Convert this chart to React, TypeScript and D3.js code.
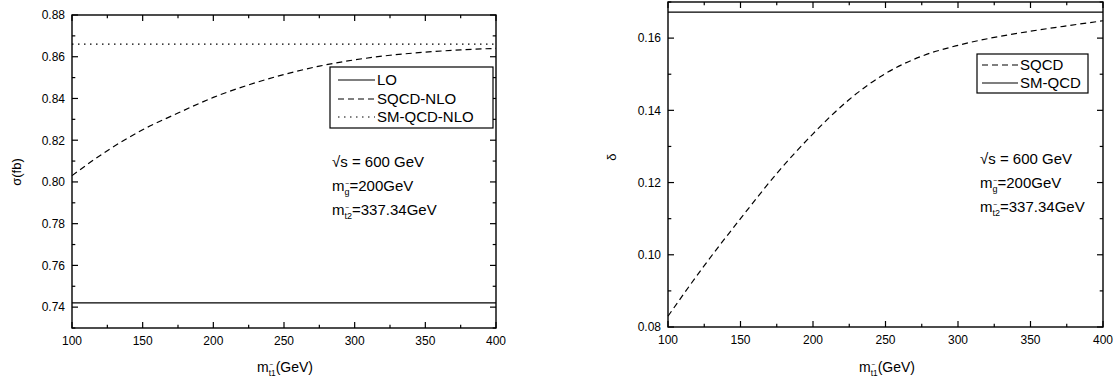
import * as d3 from 'd3';

// m_t1 grid (GeV)
const mt1 = [100, 125, 150, 175, 200, 225, 250, 275, 300, 325, 350, 375, 400];
const mtEnds = [100, 400];

// left panel: sigma (fb)
const sigmaSQCDNLO = [0.803, 0.815, 0.825, 0.833, 0.8405, 0.8465, 0.8515, 0.8555, 0.8585, 0.8607, 0.8622, 0.8633, 0.864];
const sigmaLO = [0.742, 0.742];
const sigmaSMQCDNLO = [0.866, 0.866];

// right panel: delta
const deltaSQCD = [0.083, 0.097, 0.110, 0.1225, 0.1335, 0.143, 0.1502, 0.155, 0.158, 0.1602, 0.1619, 0.1634, 0.1648];
const deltaSMQCD = [0.1672, 0.1672];

const xMajor = [100, 150, 200, 250, 300, 350, 400];
const xMinor = [125, 175, 225, 275, 325, 375];
const leftYMajor = [0.74, 0.76, 0.78, 0.80, 0.82, 0.84, 0.86, 0.88];
const leftYMinor = [0.73, 0.75, 0.77, 0.79, 0.81, 0.83, 0.85, 0.87];
const rightYMajor = [0.08, 0.10, 0.12, 0.14, 0.16];
const rightYMinor = [0.09, 0.11, 0.13, 0.15, 0.17];

const FONT = "'Liberation Sans', Arial, Helvetica, sans-serif";
const DASH = '6,4';
const DOT = '1.5,4.5';

function Frame({ x, y, yMajor, yMinor }) {
  const [x0, x1] = x.range();
  const [y0, y1] = y.range(); // y0 bottom, y1 top
  const big = 6, small = 3.3;
  return (
    <g>
      <rect x={x0} y={y1} width={x1 - x0} height={y0 - y1} fill="none" stroke="#000" strokeWidth={1.4} />
      {xMajor.map(v => (
        <g key={'xM' + v}>
          <line x1={x(v)} x2={x(v)} y1={y0} y2={y0 - big} stroke="#000" strokeWidth={1.2} />
          <line x1={x(v)} x2={x(v)} y1={y1} y2={y1 + big} stroke="#000" strokeWidth={1.2} />
          <text x={x(v)} y={y0 + 17} textAnchor="middle" fontSize={12}>{v}</text>
        </g>
      ))}
      {xMinor.map(v => (
        <g key={'xm' + v}>
          <line x1={x(v)} x2={x(v)} y1={y0} y2={y0 - small} stroke="#000" strokeWidth={1.2} />
          <line x1={x(v)} x2={x(v)} y1={y1} y2={y1 + small} stroke="#000" strokeWidth={1.2} />
        </g>
      ))}
      {yMajor.map(v => (
        <g key={'yM' + v}>
          <line x1={x0} x2={x0 + big} y1={y(v)} y2={y(v)} stroke="#000" strokeWidth={1.2} />
          <line x1={x1} x2={x1 - big} y1={y(v)} y2={y(v)} stroke="#000" strokeWidth={1.2} />
          <text x={x0 - 7} y={y(v) + 4.3} textAnchor="end" fontSize={12}>{v.toFixed(2)}</text>
        </g>
      ))}
      {yMinor.map(v => (
        <g key={'ym' + v}>
          <line x1={x0} x2={x0 + small} y1={y(v)} y2={y(v)} stroke="#000" strokeWidth={1.2} />
          <line x1={x1} x2={x1 - small} y1={y(v)} y2={y(v)} stroke="#000" strokeWidth={1.2} />
        </g>
      ))}
    </g>
  );
}

// m with tilde-subscript, e.g. m_{g~}
function MSub({ x, y, sub, rest, size = 15 }) {
  const mw = 0.833 * size;
  const ss = size * 0.6;
  return (
    <g>
      <text x={x} y={y} fontSize={size}>
        m<tspan dy={4} fontSize={ss}>{sub}</tspan><tspan dy={-4} fontSize={size}>{rest}</tspan>
      </text>
      <text x={x + mw + 0.8} y={y - 5} fontSize={size * 0.45}>~</text>
    </g>
  );
}

function Annot({ x, y }) {
  return (
    <g>
      <text x={x} y={y} fontSize={15}>√s = 600 GeV</text>
      <MSub x={x} y={y + 24} sub="g" rest="=200GeV" />
      <MSub x={x} y={y + 48} sub="t2" rest="=337.34GeV" />
    </g>
  );
}

function XTitle({ cx, y }) {
  const size = 14;
  const total = 0.833 * size + 0.834 * size * 0.6 + 2.667 * size;
  return <MSub x={cx - total / 2} y={y} sub="t1" rest="(GeV)" size={size} />;
}

export default function App() {
  const xL = d3.scaleLinear().domain([100, 400]).range([72, 496]);
  const yL = d3.scaleLinear().domain([0.73, 0.88]).range([328, 15]);
  const xR = d3.scaleLinear().domain([100, 400]).range([668, 1103]);
  const yR = d3.scaleLinear().domain([0.08, 0.17]).range([327, 2]);

  const lineL = d3.line().x(d => xL(d[0])).y(d => yL(d[1])).curve(d3.curveMonotoneX);
  const lineR = d3.line().x(d => xR(d[0])).y(d => yR(d[1])).curve(d3.curveMonotoneX);

  const zip = (xs, ys) => xs.map((v, i) => [v, ys[i]]);

  return (
    <svg width={1120} height={381} style={{ position: 'absolute', left: 0, top: 0, background: '#fff' }}
      fontFamily={FONT}>
      <rect width={1120} height={381} fill="#fff" />
      {/* left panel */}
      <path d={lineL(zip(mtEnds, sigmaLO))} fill="none" stroke="#000" strokeWidth={1.2} />
      <path d={lineL(zip(mt1, sigmaSQCDNLO))} fill="none" stroke="#000" strokeWidth={1.2} strokeDasharray={DASH} />
      <path d={lineL(zip(mtEnds, sigmaSMQCDNLO))} fill="none" stroke="#000" strokeWidth={1.2} strokeDasharray={DOT} />
      <Frame x={xL} y={yL} yMajor={leftYMajor} yMinor={leftYMinor} />
      <text transform="translate(21,172) rotate(-90)" textAnchor="middle" fontSize={13}>σ(fb)</text>
      <XTitle cx={285} y={372} />
      <g>
        <rect x={330} y={67} width={163} height={61} fill="#fff" stroke="#000" strokeWidth={1.2} />
        <line x1={338} x2={375} y1={80} y2={80} stroke="#000" strokeWidth={1.2} />
        <text x={377} y={85} fontSize={15}>LO</text>
        <line x1={338} x2={375} y1={99} y2={99} stroke="#000" strokeWidth={1.2} strokeDasharray={DASH} />
        <text x={377} y={104} fontSize={15}>SQCD-NLO</text>
        <line x1={338} x2={375} y1={117} y2={117} stroke="#000" strokeWidth={1.2} strokeDasharray={DOT} />
        <text x={377} y={122} fontSize={15}>SM-QCD-NLO</text>
      </g>
      <Annot x={332} y={167} />

      {/* right panel */}
      <path d={lineR(zip(mt1, deltaSQCD))} fill="none" stroke="#000" strokeWidth={1.2} strokeDasharray={DASH} />
      <path d={lineR(zip(mtEnds, deltaSMQCD))} fill="none" stroke="#000" strokeWidth={1.2} />
      <Frame x={xR} y={yR} yMajor={rightYMajor} yMinor={rightYMinor} />
      <text transform="translate(616,157) rotate(-90)" textAnchor="middle" fontSize={13}>δ</text>
      <XTitle cx={887} y={372} />
      <g>
        <rect x={977} y={54} width={111} height={39} fill="#fff" stroke="#000" strokeWidth={1.2} />
        <line x1={982} x2={1018} y1={65} y2={65} stroke="#000" strokeWidth={1.2} strokeDasharray={DASH} />
        <text x={1020} y={70} fontSize={15}>SQCD</text>
        <line x1={982} x2={1018} y1={83} y2={83} stroke="#000" strokeWidth={1.2} />
        <text x={1020} y={88} fontSize={15}>SM-QCD</text>
      </g>
      <Annot x={980} y={164} />
    </svg>
  );
}
